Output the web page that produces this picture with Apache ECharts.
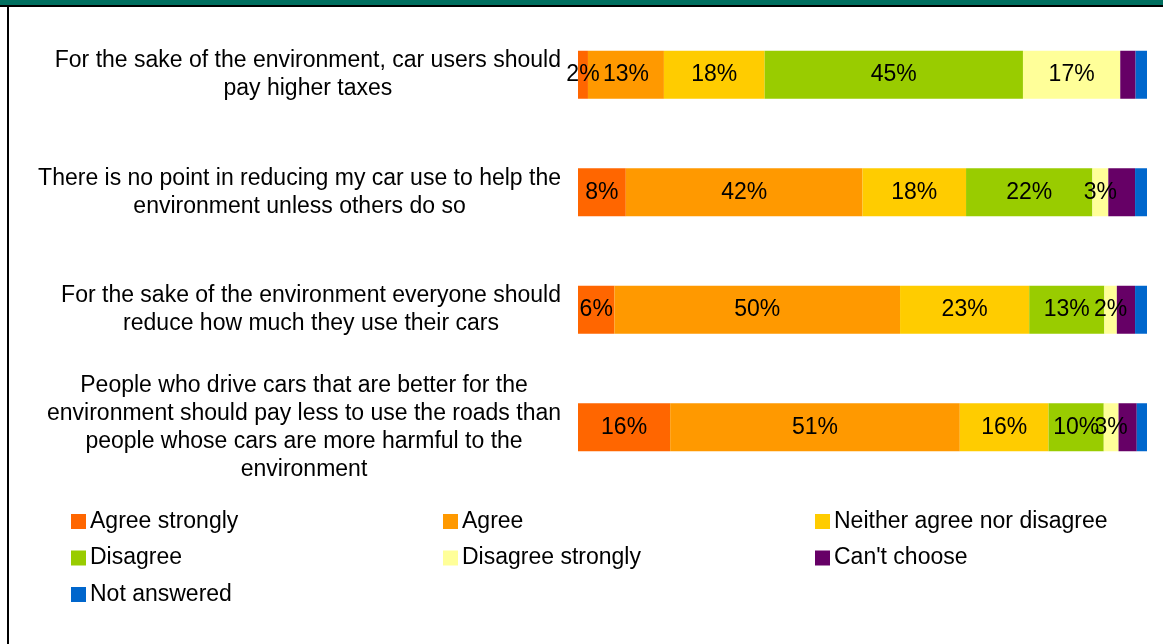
<!DOCTYPE html>
<html><head><meta charset="utf-8">
<script src="https://cdn.jsdelivr.net/npm/echarts@6/dist/echarts.min.js"></script>
<style>html,body{margin:0;padding:0;background:#fff}#c{width:1163px;height:644px}</style>
</head><body><div id="c"></div>
<script>
var categories = [
  "For the sake of the environment, car users should\npay higher taxes",
  "There is no point in reducing my car use to help the\nenvironment unless others do so",
  "For the sake of the environment everyone should\nreduce how much they use their cars",
  "People who drive cars that are better for the\nenvironment should pay less to use the roads than\npeople whose cars are more harmful to the\nenvironment"
];
var seriesNames = ["Agree strongly","Agree","Neither agree nor disagree","Disagree","Disagree strongly","Can't choose","Not answered"];
var agreeStrongly = [1.75, 8.4, 6.4, 16.2];
var agree = [13.35, 41.6, 50.2, 50.9];
var neither = [17.7, 18.2, 22.7, 15.6];
var disagree = [45.4, 22.2, 13.2, 9.7];
var disagreeStrongly = [17.1, 2.8, 2.2, 2.6];
var cantChoose = [2.7, 4.7, 3.2, 3.2];
var notAnswered = [2.0, 2.1, 2.1, 1.9];
var values = [agreeStrongly, agree, neither, disagree, disagreeStrongly, cantChoose, notAnswered];
var colors = ["#FF6600","#FF9900","#FFCC00","#99CC00","#FFFF99","#660066","#0066CC"];
var showLabel = [true,true,true,true,true,false,false];
var FONT = "'Liberation Sans', Arial, sans-serif";
var FS = 23;

var chart = echarts.init(document.getElementById('c'));
var series = seriesNames.map(function(n,i){
  return {
    name: n, type: 'bar', stack: 'all', barWidth: 48,
    itemStyle: {color: colors[i]},
    label: {show: showLabel[i], position: 'inside', color: '#000', fontSize: FS, fontFamily: FONT,
      formatter: function(p){ return Math.round(p.value) + '%'; }},
    emphasis: {disabled: true},
    data: values[i]
  };
});
function legendCol(left, names){
  return {left: left, top: 505, orient: 'vertical', itemWidth: 15, itemHeight: 15, itemGap: 13.5,
    icon: 'rect', selectedMode: false, data: names,
    textStyle: {fontSize: FS, lineHeight: 23, fontFamily: FONT, color: '#000', padding: [0,0,0,-1]}};
}
chart.setOption({
  animation: false,
  color: colors,
  grid: {left: 578, right: 16, top: 16, bottom: 158, containLabel: false},
  xAxis: {type: 'value', min: 0, max: 100, show: false},
  yAxis: {type: 'category', data: categories, inverse: true,
    axisLine: {show: false}, axisTick: {show: false},
    axisLabel: {margin: 17, fontSize: FS, fontFamily: FONT, color: '#000', lineHeight: 28, align: 'right',
      formatter: function(v){ return v.split('\n').map(function(s){ return '{c|' + s + '}'; }).join('\n'); },
      rich: {c: {align: 'center', fontSize: FS, fontFamily: FONT, color: '#000', lineHeight: 28}}}},
  legend: [
    legendCol(66, ["Agree strongly","Disagree","Not answered"]),
    legendCol(438, ["Agree","Disagree strongly"]),
    legendCol(810, ["Neither agree nor disagree","Can't choose"])
  ],
  graphic: [
    {type: 'rect', left: 0, top: 0, shape: {width: 1163, height: 6}, style: {fill: '#006F5F'}, silent: true},
    {type: 'rect', left: 0, top: 5, shape: {width: 1163, height: 2}, style: {fill: '#000'}, silent: true},
    {type: 'rect', left: 7, top: 5, shape: {width: 2, height: 639}, style: {fill: '#000'}, silent: true}
  ],
  series: series
});
</script></body></html>
